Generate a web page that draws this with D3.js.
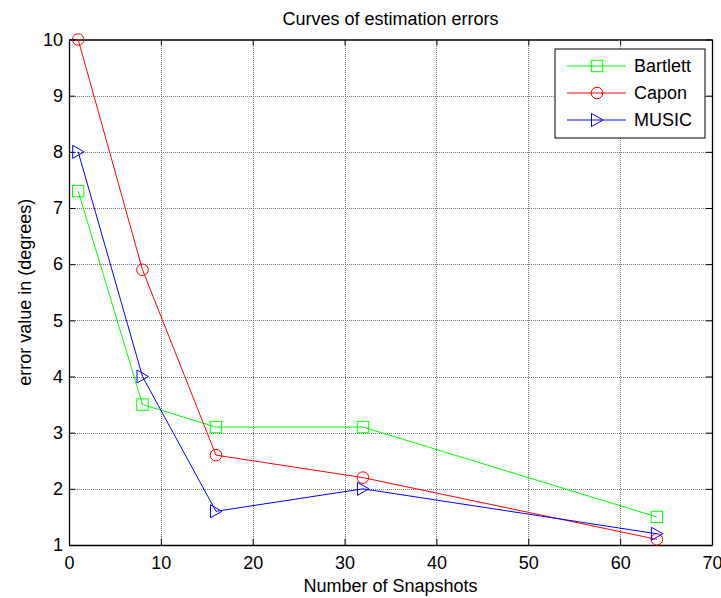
<!DOCTYPE html>
<html>
<head>
<meta charset="utf-8">
<script src="https://cdn.jsdelivr.net/npm/d3@7"></script>
<style>
  body { margin: 0; background: #fff; }
  svg text { font-family: "Liberation Sans", Arial, sans-serif; fill: #000; }
</style>
</head>
<body>
<div id="chart"></div>
<script>
const SVG_WIDTH = 721;
const SVG_HEIGHT = 598;
const MARGIN = { TOP: 39.5, RIGHT: 9, LEFT: 69, BOTTOM: 53 };
const FONT = 18;

// data
const snapshots = [1, 8, 16, 32, 64];
const bartlett = [7.3, 3.5, 3.1, 3.1, 1.5];
const capon = [10, 5.9, 2.6, 2.2, 1.1];
const music = [8, 4, 1.6, 2, 1.2];
const seriesNames = ["Bartlett", "Capon", "MUSIC"];
const seriesColors = ["#00ff00", "#ff0000", "#0000ff"];
const seriesMarkers = ["square", "circle", "triangle"];
const xTicks = [0, 10, 20, 30, 40, 50, 60, 70];
const yTicks = [1, 2, 3, 4, 5, 6, 7, 8, 9, 10];

const width = SVG_WIDTH - MARGIN.LEFT - MARGIN.RIGHT;
const height = SVG_HEIGHT - MARGIN.TOP - MARGIN.BOTTOM;

const svg = d3.select("#chart").append("svg")
    .attr("width", SVG_WIDTH)
    .attr("height", SVG_HEIGHT);

const g = svg.append("g")
    .attr("transform", `translate(${MARGIN.LEFT},${MARGIN.TOP})`);

const xScale = d3.scaleLinear().domain([0, 70]).range([0, width]);
const yScale = d3.scaleLinear().domain([1, 10]).range([height, 0]);

// grid (dotted)
g.append("g")
    .attr("transform", `translate(0,${height})`)
    .call(d3.axisBottom(xScale).tickValues(xTicks.slice(1, -1)).tickSize(-height).tickFormat(""))
    .call(a => a.select(".domain").remove())
    .selectAll("line")
    .attr("stroke", "#777")
    .attr("stroke-dasharray", "1,1")
    .attr("shape-rendering", "crispEdges");

g.append("g")
    .call(d3.axisLeft(yScale).tickValues(yTicks.slice(1, -1)).tickSize(-width).tickFormat(""))
    .call(a => a.select(".domain").remove())
    .selectAll("line")
    .attr("stroke", "#777")
    .attr("stroke-dasharray", "1,1")
    .attr("shape-rendering", "crispEdges");

// axes box, ticks pointing inward
function styleAxis(a) {
    a.select(".domain").attr("stroke", "#000").attr("stroke-width", 1.3);
    a.selectAll("line").attr("stroke", "#000");
    a.selectAll("text").style("font-size", FONT + "px").attr("font-family", null);
}

g.append("g")
    .attr("transform", `translate(0,${height})`)
    .call(d3.axisBottom(xScale).tickValues(xTicks).tickSizeInner(-6).tickSizeOuter(0).tickPadding(11))
    .call(styleAxis);

g.append("g")
    .call(d3.axisTop(xScale).tickValues(xTicks).tickSizeInner(-6).tickSizeOuter(0).tickFormat(""))
    .call(styleAxis);

g.append("g")
    .call(d3.axisLeft(yScale).tickValues(yTicks).tickSizeInner(-6).tickSizeOuter(0).tickPadding(6))
    .call(styleAxis);

g.append("g")
    .attr("transform", `translate(${width},0)`)
    .call(d3.axisRight(yScale).tickValues(yTicks).tickSizeInner(-6).tickSizeOuter(0).tickFormat(""))
    .call(styleAxis);

// markers
function drawMarker(sel, type, color) {
    if (type === "square") {
        sel.append("rect").attr("x", -5.7).attr("y", -5.7).attr("width", 11.4).attr("height", 11.4)
            .attr("fill", "none").attr("stroke", color);
    } else if (type === "circle") {
        sel.append("circle").attr("r", 5.8).attr("fill", "none").attr("stroke", color);
    } else {
        sel.append("path").attr("d", "M-5.5,-6.5L-5.5,6.5L6,0Z").attr("fill", "none").attr("stroke", color);
    }
}

const allSeries = [bartlett, capon, music];
const line = d3.line()
    .x((d, i) => xScale(snapshots[i]))
    .y(d => yScale(d));

allSeries.forEach(function (vals, k) {
    g.append("path")
        .datum(vals)
        .attr("d", line)
        .attr("fill", "none")
        .attr("stroke", seriesColors[k])
        .attr("stroke-width", 1);

    g.selectAll(".m" + k)
        .data(vals)
        .enter()
        .append("g")
        .attr("class", "m" + k)
        .attr("transform", (d, i) => `translate(${xScale(snapshots[i])},${yScale(d)})`)
        .each(function () { drawMarker(d3.select(this), seriesMarkers[k], seriesColors[k]); });
});

// legend
const legend = svg.append("g").attr("transform", "translate(555,49)");
legend.append("rect")
    .attr("width", 150).attr("height", 89)
    .attr("fill", "#fff").attr("stroke", "#000").attr("stroke-width", 1);

seriesNames.forEach(function (name, k) {
    const y = 17 + k * 27;
    legend.append("line")
        .attr("x1", 12).attr("x2", 71).attr("y1", y).attr("y2", y)
        .attr("stroke", seriesColors[k]);
    drawMarker(legend.append("g").attr("transform", `translate(42,${y})`), seriesMarkers[k], seriesColors[k]);
    legend.append("text")
        .attr("x", 79).attr("y", y).attr("dy", "0.35em")
        .style("font-size", FONT + "px")
        .text(name);
});

// titles
svg.append("text")
    .attr("x", MARGIN.LEFT + width / 2).attr("y", 25)
    .attr("text-anchor", "middle")
    .style("font-size", FONT + "px")
    .text("Curves of estimation errors");

svg.append("text")
    .attr("x", MARGIN.LEFT + width / 2).attr("y", 592)
    .attr("text-anchor", "middle")
    .style("font-size", FONT + "px")
    .text("Number of Snapshots");

svg.append("text")
    .attr("transform", `translate(31,${MARGIN.TOP + height / 2}) rotate(-90)`)
    .attr("text-anchor", "middle")
    .style("font-size", FONT + "px")
    .text("error value in (degrees)");
</script>
</body>
</html>
